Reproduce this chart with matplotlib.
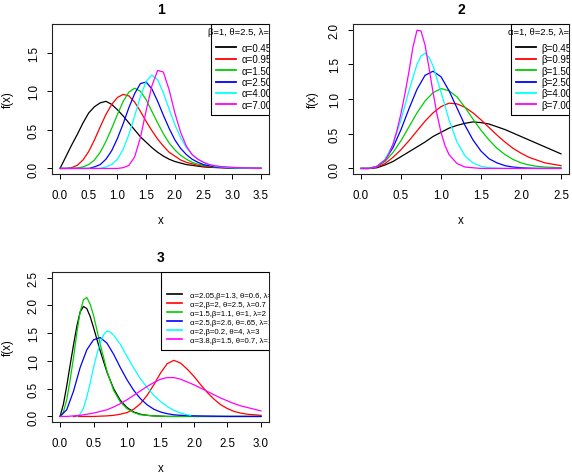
import matplotlib
matplotlib.use("Agg")
import matplotlib.pyplot as plt

plt.rcParams['font.family'] = ['Liberation Sans', 'DejaVu Sans']

colours = ["black", "red", "#00cd00", "blue", "cyan", "magenta"]

# panel 1 : beta=1, theta=2.5, lambda=1, alpha varies
p1_x = [0.0, 0.1, 0.2, 0.3, 0.4, 0.5, 0.6, 0.7, 0.8, 0.9, 1.0, 1.1, 1.2, 1.3, 1.4, 1.5, 1.6, 1.7,
        1.8, 1.9, 2.0, 2.1, 2.2, 2.3, 2.4, 2.5, 2.6, 2.7, 2.8, 2.9, 3.0, 3.1, 3.2, 3.3, 3.4, 3.5]
p1_a045 = [0, .15, .30, .44, .59, .72, .80, .85, .87, .83, .76, .68, .59, .50, .41, .34, .27, .21,
           .16, .12, .09, .07, .05, .04, .03, .02, .015, .012, .01, .008, .005, .004, .003, .002, .001, .001]
p1_a095 = [0, 0, .01, .04, .11, .22, .37, .54, .70, .83, .92, .96, .94, .86, .74, .61, .49, .38,
           .29, .21, .16, .11, .08, .06, .04, .03, .02, .015, .01, .007, .005, .003, .002, .001, 0, 0]
p1_a150 = [0, 0, 0, .005, .02, .05, .11, .21, .35, .52, .70, .87, .99, 1.04, 1.00, .89, .74, .59,
           .45, .33, .24, .17, .12, .08, .055, .04, .03, .02, .013, .009, .006, .004, .003, .002, .001, .001]
p1_a250 = [0, 0, 0, 0, 0, 0, .02, .05, .12, .23, .39, .58, .79, .97, 1.10, 1.12, 1.03, .87,
           .69, .52, .37, .26, .18, .12, .08, .05, .035, .02, .015, .01, .007, .005, .003, .002, .001, .001]
p1_a400 = [0, 0, 0, 0, 0, 0, 0, 0, .02, .05, .12, .25, .44, .68, .93, 1.13, 1.21, 1.15,
           .98, .77, .57, .40, .27, .18, .12, .08, .05, .03, .02, .015, .01, .007, .005, .003, .002, .001]
p1_a700 = [0, 0, 0, 0, 0, 0, 0, 0, 0, 0, 0, .01, .04, .15, .40, .75, 1.07, 1.27,
           1.25, 1.02, .72, .47, .29, .18, .12, .08, .05, .035, .025, .02, .015, .01, .007, .005, .003, .002]
p1_labels = ["α=0.45", "α=0.95", "α=1.50", "α=2.50", "α=4.00", "α=7.00"]

# panel 2 : alpha=1, theta=2.5, lambda=1, beta varies
p2_x = [0.0, 0.1, 0.2, 0.3, 0.4, 0.5, 0.6, 0.7, 0.8, 0.9, 1.0, 1.1, 1.2, 1.3, 1.4, 1.5, 1.6,
        1.7, 1.8, 1.9, 2.0, 2.1, 2.2, 2.3, 2.4, 2.5]
p2_b045 = [0, 0, .01, .05, .10, .17, .24, .31, .38, .46, .52, .58, .62, .65, .67, .66, .64,
           .60, .56, .51, .46, .41, .36, .31, .26, .21]
p2_b095 = [0, 0, .02, .07, .16, .27, .40, .54, .68, .80, .89, .94, .93, .88, .80, .70, .59,
           .48, .38, .29, .22, .16, .12, .08, .06, .04]
p2_b150 = [0, 0, .03, .10, .23, .40, .60, .80, .97, 1.09, 1.15, 1.12, 1.03, .88, .71, .55, .41,
           .29, .20, .13, .08, .05, .03, .02, .015, .01]
p2_b250 = [0, 0, .03, .12, .30, .56, .86, 1.14, 1.34, 1.40, 1.32, 1.12, .87, .62, .41, .25, .14,
           .08, .04, .02, .01, .005, 0, 0, 0, 0]
p2_b400_x = [0.0, 0.1, 0.2, 0.3, 0.4, 0.5, 0.6, 0.7, 0.75, 0.8, 0.85, 0.9, 1.0, 1.1, 1.2, 1.3,
             1.4, 1.5, 1.6, 1.8, 2.5]
p2_b400 = [0, 0, .03, .13, .35, .70, 1.12, 1.50, 1.62, 1.66, 1.60, 1.48, 1.10, .70, .38, .18,
           .08, .03, .01, 0, 0]
p2_b700_x = [0.0, 0.1, 0.2, 0.3, 0.35, 0.4, 0.45, 0.5, 0.55, 0.6, 0.65, 0.7, 0.75, 0.8, 0.85,
             0.9, 0.95, 1.0, 1.05, 1.1, 1.2, 1.3, 1.4, 1.5, 2.5]
p2_b700 = [0, 0, .03, .12, .21, .35, .55, .79, 1.08, 1.40, 1.75, 1.99, 1.98, 1.78, 1.45,
           1.10, .78, .52, .33, .20, .07, .02, .01, 0, 0]
p2_labels = ["β=0.45", "β=0.95", "β=1.50", "β=2.50", "β=4.00", "β=7.00"]

# panel 3 : mixed parameter sets
p3_s1_x = [0.0, 0.05, 0.1, 0.15, 0.2, 0.25, 0.3, 0.35, 0.4, 0.45, 0.5, 0.6, 0.7, 0.8, 0.9, 1.0,
           1.1, 1.2, 1.3, 1.4, 1.6, 3.0]
p3_s1 = [0, .22, .55, .92, 1.28, 1.62, 1.88, 1.98, 1.94, 1.80, 1.60, 1.18, .80, .50, .29, .16,
         .08, .04, .02, .01, 0, 0]
p3_s2_x = [0.2, 0.3, 0.4, 0.5, 0.6, 0.7, 0.8, 0.9, 1.0, 1.1, 1.2, 1.3, 1.4, 1.5, 1.6, 1.7, 1.8,
           1.9, 2.0, 2.1, 2.2, 2.3, 2.4, 2.5, 2.6, 2.7, 2.8, 2.9, 3.0]
p3_s2 = [0, 0, 0, 0, .005, .01, .02, .04, .07, .13, .23, .38, .57, .78, .95, 1.01, .96,
         .85, .72, .57, .43, .31, .21, .14, .09, .06, .04, .03, .02]
p3_s3_x = [0.0, 0.05, 0.1, 0.15, 0.2, 0.25, 0.3, 0.35, 0.4, 0.45, 0.5, 0.6, 0.7, 0.8, 0.9, 1.0,
           1.1, 1.2, 1.4, 1.6, 3.0]
p3_s3 = [0, .08, .30, .65, 1.05, 1.50, 1.88, 2.10, 2.14, 2.02, 1.82, 1.30, .82, .47, .26, .14,
         .07, .03, .01, 0, 0]
p3_s4_x = [0.0, 0.1, 0.2, 0.3, 0.4, 0.5, 0.6, 0.7, 0.8, 0.9, 1.0, 1.1, 1.2, 1.3, 1.4, 1.5, 1.6,
           1.7, 1.8, 2.0, 2.5, 3.0]
p3_s4 = [0, .12, .45, .88, 1.20, 1.38, 1.42, 1.32, 1.12, .88, .66, .47, .32, .21, .13, .08, .05,
         .03, .02, .01, 0, 0]
p3_s5_x = [0.25, 0.3, 0.35, 0.4, 0.45, 0.5, 0.55, 0.6, 0.65, 0.7, 0.75, 0.8, 0.9, 1.0, 1.1, 1.2,
           1.3, 1.4, 1.5, 1.6, 1.7, 1.8, 1.9, 1.95]
p3_s5 = [0, .04, .15, .35, .60, .88, 1.12, 1.32, 1.47, 1.54, 1.52, 1.46, 1.30, 1.08, .87, .68,
         .52, .38, .27, .18, .11, .06, .03, .02]
p3_s6_x = [0.0, 0.1, 0.2, 0.3, 0.4, 0.5, 0.6, 0.7, 0.8, 0.9, 1.0, 1.1, 1.2, 1.3, 1.4, 1.5, 1.6,
           1.7, 1.8, 1.9, 2.0, 2.1, 2.2, 2.3, 2.4, 2.5, 2.6, 2.7, 2.8, 2.9, 3.0]
p3_s6 = [0, 0, .01, .02, .04, .06, .09, .12, .17, .23, .30, .38, .46, .54, .61, .67, .70,
         .70, .67, .62, .57, .51, .45, .39, .33, .28, .23, .19, .16, .13, .10]
p3_labels = ["α=2.05,β=1.3, θ=0.6, λ=1", "α=2,β=2, θ=2.5, λ=0.7", "α=1.5,β=1.1, θ=1, λ=2",
             "α=2.5,β=2.6, θ=.65, λ=1", "α=2,β=0.2, θ=4, λ=3", "α=3.8,β=1.5, θ=0.7, λ=1"]


def style_axes(ax, title, xmax, ymax, ylab_x):
    # R-like box, rotated y tick labels, 4% padding on both axes
    ax.set_xlim(-0.04 * xmax, 1.04 * xmax)
    ax.set_ylim(-0.04 * ymax, 1.04 * ymax)
    xt = [i * 0.5 for i in range(int(round(xmax / 0.5)) + 1)]
    yt = [i * 0.5 for i in range(int(round(ymax / 0.5)) + 1)]
    if ymax == 1.8:
        yt = yt[:-1]
    ax.set_xticks(xt)
    ax.set_xticklabels(["%.1f" % v for v in xt])
    ax.set_yticks(yt)
    ax.set_yticklabels(["%.1f" % v for v in yt], rotation=90, va="center")
    ax.tick_params(axis="both", direction="out", length=3.6, width=0.7, labelsize=8.3)
    ax.tick_params(axis="x", pad=7.5)
    ax.tick_params(axis="y", pad=5.2)
    for s in ax.spines.values():
        s.set_linewidth(0.8)
        s.set_color("#222222")
    ax.set_title(title, fontsize=10, fontweight="bold", pad=8)
    ax.set_xlabel("x", fontsize=8.3)
    ax.set_ylabel("f(x)", fontsize=8.3)
    ax.xaxis.set_label_coords(0.5, -0.27)
    ax.yaxis.set_label_coords(ylab_x, 0.5)


def clip_legend(ax, leg):
    for a in leg.findobj():
        a.set_clip_box(ax.bbox)
        a.set_clip_on(True)


fig = plt.figure(figsize=(5.72, 4.77), dpi=100)
ax1 = fig.add_axes([52 / 572, 1 - 175 / 477, 217 / 572, 150 / 477])
ax2 = fig.add_axes([353 / 572, 1 - 175 / 477, 216 / 572, 150 / 477])
ax3 = fig.add_axes([52 / 572, 1 - 423 / 477, 217 / 572, 150 / 477])

# panel 1
for y, c, lab in zip([p1_a045, p1_a095, p1_a150, p1_a250, p1_a400, p1_a700], colours, p1_labels):
    ax1.plot(p1_x, y, color=c, lw=0.9, label=lab)
style_axes(ax1, "1", 3.5, 1.8, -0.176)
leg = ax1.legend(loc="upper left", bbox_to_anchor=(0.733, 1.0), borderaxespad=0, fontsize=7,
                 title=" ", title_fontsize=8.8, frameon=True, fancybox=False, edgecolor="black",
                 framealpha=1, handlelength=2.0, handletextpad=0.55, labelspacing=0.145,
                 borderpad=0.55, alignment="left")
leg.get_frame().set_linewidth(0.8)
for l in leg.get_lines():
    l.set_linewidth(1.3)
clip_legend(ax1, leg)
ax1.text(0.719, 0.953, "β=1, θ=2.5, λ=1", transform=ax1.transAxes, fontsize=6.8,
         va="center", ha="left", clip_on=True, zorder=10)

# panel 2
p2_xs = [p2_x, p2_x, p2_x, p2_x, p2_b400_x, p2_b700_x]
for x, y, c, lab in zip(p2_xs, [p2_b045, p2_b095, p2_b150, p2_b250, p2_b400, p2_b700], colours, p2_labels):
    ax2.plot(x, y, color=c, lw=0.9, label=lab)
style_axes(ax2, "2", 2.5, 2.0, -0.159)
leg = ax2.legend(loc="upper left", bbox_to_anchor=(0.731, 1.0), borderaxespad=0, fontsize=7,
                 title=" ", title_fontsize=8.8, frameon=True, fancybox=False, edgecolor="black",
                 framealpha=1, handlelength=2.0, handletextpad=0.55, labelspacing=0.145,
                 borderpad=0.55, alignment="left")
leg.get_frame().set_linewidth(0.8)
for l in leg.get_lines():
    l.set_linewidth(1.3)
clip_legend(ax2, leg)
ax2.text(0.718, 0.953, "α=1, θ=2.5, λ=1", transform=ax2.transAxes, fontsize=6.8,
         va="center", ha="left", clip_on=True, zorder=10)

# panel 3
p3_xs = [p3_s1_x, p3_s2_x, p3_s3_x, p3_s4_x, p3_s5_x, p3_s6_x]
for x, y, c, lab in zip(p3_xs, [p3_s1, p3_s2, p3_s3, p3_s4, p3_s5, p3_s6], colours, p3_labels):
    ax3.plot(x, y, color=c, lw=0.9, label=lab)
style_axes(ax3, "3", 3.0, 2.5, -0.176)
leg = ax3.legend(loc="upper left", bbox_to_anchor=(0.502, 1.0), borderaxespad=0, fontsize=5.6,
                 title=" ", title_fontsize=8.7, frameon=True, fancybox=False, edgecolor="black",
                 framealpha=1, handlelength=1.96, handletextpad=0.92, labelspacing=0.195,
                 borderpad=0.8, alignment="left")
leg.get_frame().set_linewidth(0.8)
for l in leg.get_lines():
    l.set_linewidth(1.2)
clip_legend(ax3, leg)

fig.savefig("out.png", dpi=100)
